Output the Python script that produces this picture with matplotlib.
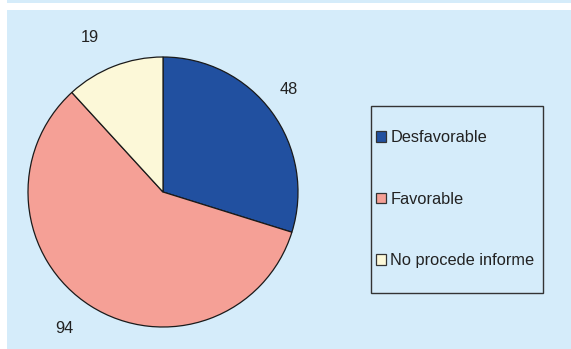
import matplotlib
matplotlib.use("Agg")
import matplotlib.pyplot as plt
from matplotlib.patches import Rectangle, Patch

categories = ["Desfavorable", "Favorable", "No procede informe"]
values = [48, 94, 19]
colors = ["#2150a0", "#f5a096", "#fcf8d8"]

W, H = 571, 349
BG = "#d5ecfa"
plt.rcParams["font.family"] = ["Liberation Sans", "DejaVu Sans"]

fig = plt.figure(figsize=(W / 100, H / 100), dpi=100, facecolor="white")


def px(x0, y0, x1, y1):
    """Figure-fraction box from pixel corners (origin top-left)."""
    return (x0 / W, 1 - y1 / H, (x1 - x0) / W, (y1 - y0) / H)


# background panels
for box in [px(7, 0, 571, 3), px(7, 10, 571, 349)]:
    fig.patches.append(Rectangle(box[:2], box[2], box[3], transform=fig.transFigure,
                                 facecolor=BG, edgecolor="none", zorder=-10))

# pie
cx, cy, r = 163, 192, 135
ax = fig.add_axes(px(cx - r, cy - r, cx + r, cy + r))
ax.set_zorder(5)
ax.set_facecolor("none")
wedges, texts = ax.pie(values, colors=colors, startangle=90, counterclock=False,
                       labels=[str(v) for v in values], labeldistance=1.23,
                       radius=1.0,
                       wedgeprops=dict(edgecolor="#1a1a1a", linewidth=0.9),
                       textprops=dict(fontsize=11.8, color="#222222"))
# small nudges of the value labels (in units of the pie radius)
nudges = [(-0.06, 0.03), (-0.07, 0.03), (-0.10, 0.0)]
for t, (dx, dy) in zip(texts, nudges):
    x, y = t.get_position()
    t.set_position((x + dx, y + dy))
    t.set_ha("center")
    t.set_va("center")
ax.set_xlim(-1, 1)
ax.set_ylim(-1, 1)
ax.set_aspect("equal")
ax.axis("off")

# legend frame
lb = px(371, 106, 543, 293)
fig.patches.append(Rectangle(lb[:2], lb[2], lb[3], transform=fig.transFigure,
                             facecolor="none", edgecolor="#333333", linewidth=1.0, zorder=3))

handles = [Patch(facecolor=c, edgecolor="#333333", linewidth=0.9) for c in colors]
leg = fig.legend(handles, categories, loc="upper left",
                 bbox_to_anchor=(376 / W, 1 - 130 / H), frameon=False,
                 fontsize=11.8, handlelength=0.62, handleheight=0.62,
                 handletextpad=0.25, labelspacing=2.85, borderpad=0.0,
                 borderaxespad=0.0)
for t in leg.get_texts():
    t.set_color("#222222")

fig.savefig("out.png", dpi=100, facecolor="white")
